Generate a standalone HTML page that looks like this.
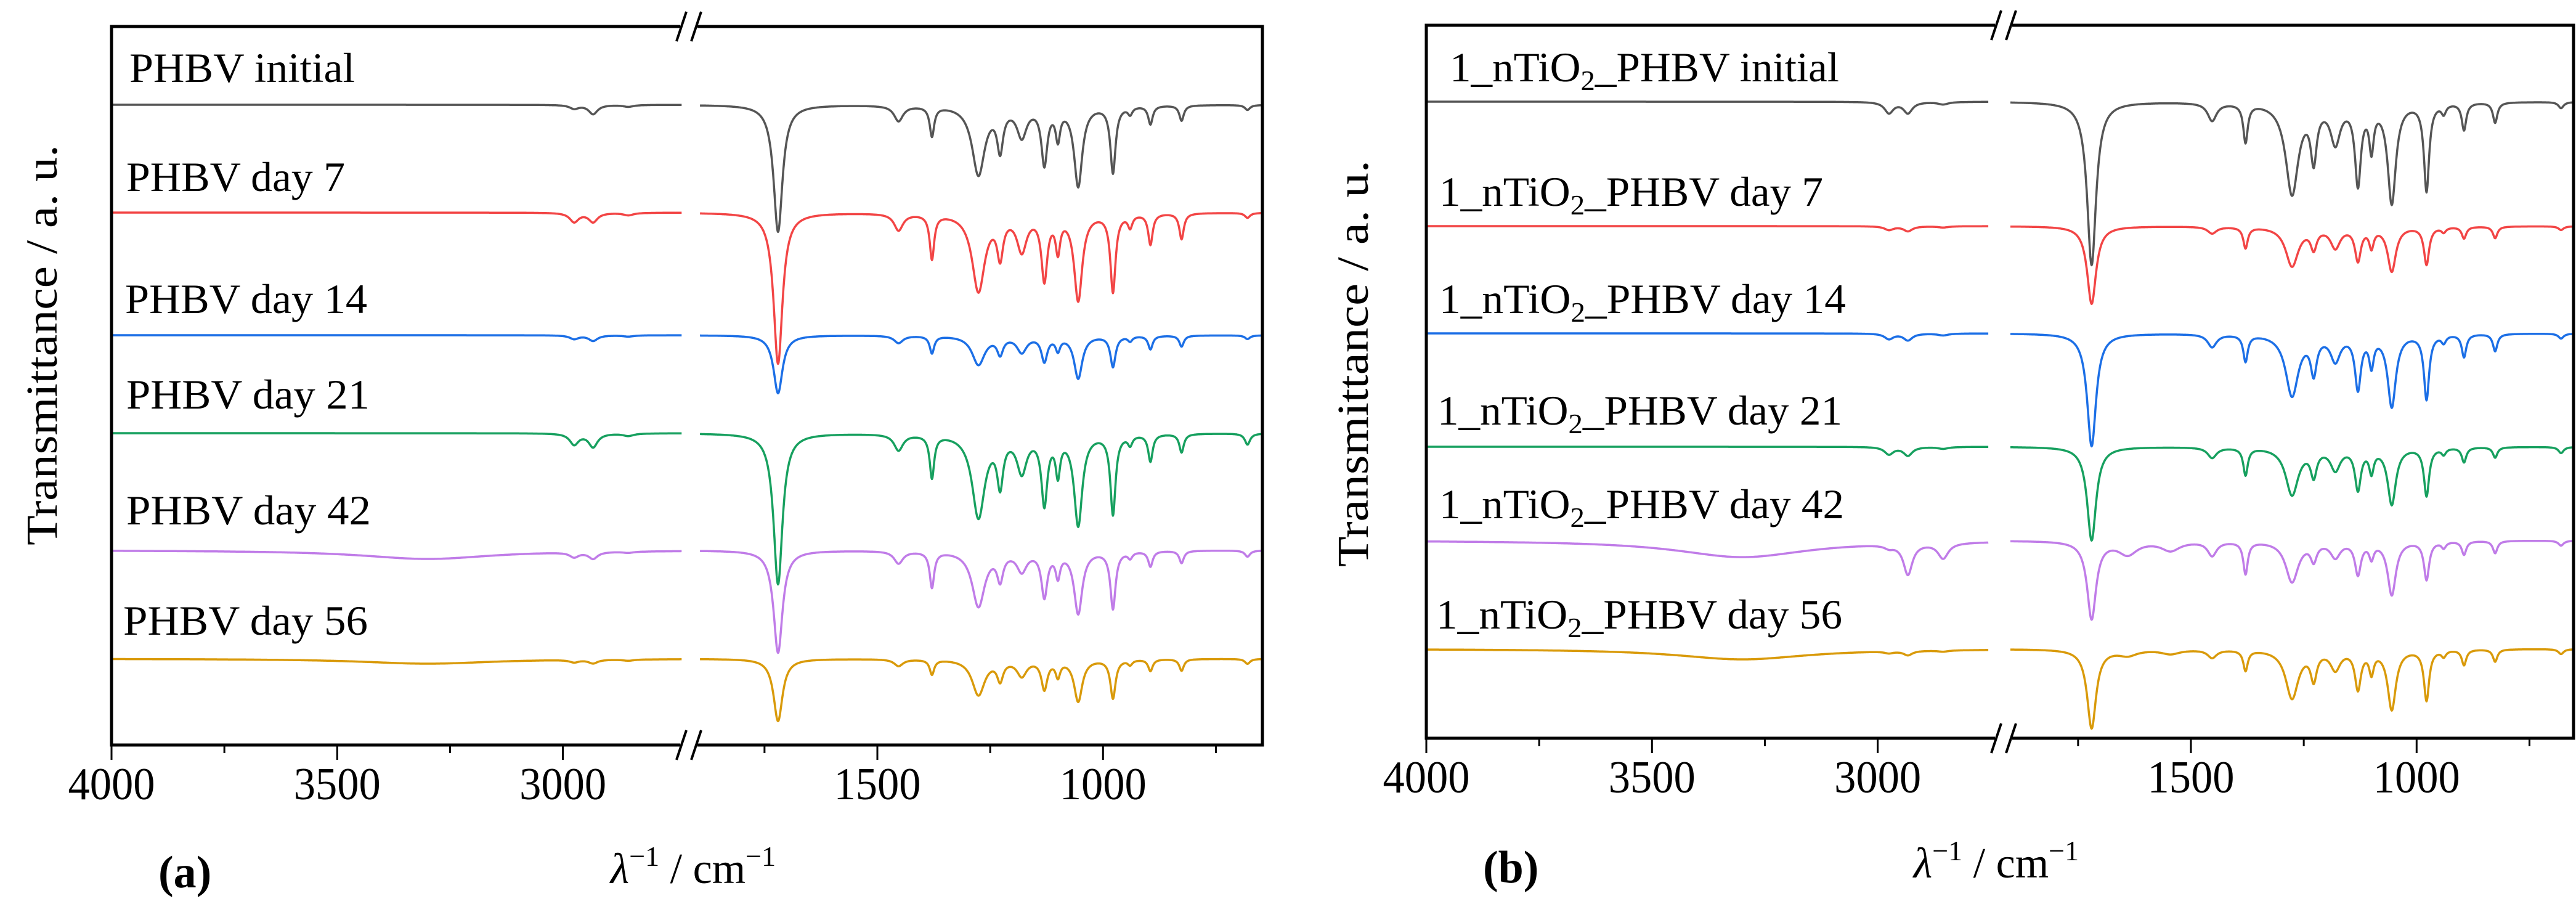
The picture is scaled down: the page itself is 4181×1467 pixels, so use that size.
<!DOCTYPE html>
<html><head><meta charset="utf-8">
<style>
html,body{margin:0;padding:0;background:#fff;}
svg{display:block;}
text{font-family:"Liberation Serif",serif;fill:#000;}
</style></head>
<body>
<svg id="chart" width="4181" height="1467" viewBox="0 0 4181 1467" xmlns="http://www.w3.org/2000/svg">
<rect x="0" y="0" width="4181" height="1467" fill="#fff"/>
<g id="panelA"></g>
<g id="panelB"></g>

<!-- Panel A text -->
<text transform="translate(92,560) rotate(-90)" text-anchor="middle" font-size="72" textLength="650" lengthAdjust="spacingAndGlyphs">Transmittance / a. u.</text>
<text x="1125" y="1433" text-anchor="middle" font-size="70"><tspan font-style="italic">λ</tspan><tspan dy="-28" font-size="46">−1</tspan><tspan dy="28"> / cm</tspan><tspan dy="-28" font-size="46">−1</tspan></text>
<text x="257" y="1440" font-size="74" font-weight="bold">(a)</text>
<text x="210" y="133" font-size="68" textLength="366" lengthAdjust="spacingAndGlyphs">PHBV initial</text>
<text x="205" y="310" font-size="68" textLength="355" lengthAdjust="spacingAndGlyphs">PHBV day 7</text>
<text x="203" y="508" font-size="68" textLength="393" lengthAdjust="spacingAndGlyphs">PHBV day 14</text>
<text x="205" y="663" font-size="68" textLength="395" lengthAdjust="spacingAndGlyphs">PHBV day 21</text>
<text x="205" y="851" font-size="68" textLength="397" lengthAdjust="spacingAndGlyphs">PHBV day 42</text>
<text x="200" y="1030" font-size="68" textLength="397" lengthAdjust="spacingAndGlyphs">PHBV day 56</text>

<!-- Panel B text -->
<text transform="translate(2220,590) rotate(-90)" text-anchor="middle" font-size="72" textLength="660" lengthAdjust="spacingAndGlyphs">Transmittance / a. u.</text>
<text x="3240" y="1424" text-anchor="middle" font-size="70"><tspan font-style="italic">λ</tspan><tspan dy="-28" font-size="46">−1</tspan><tspan dy="28"> / cm</tspan><tspan dy="-28" font-size="46">−1</tspan></text>
<text x="2407" y="1432" font-size="74" font-weight="bold">(b)</text>
<text x="2353" y="132" font-size="68" textLength="632" lengthAdjust="spacingAndGlyphs">1_nTiO<tspan dy="14" font-size="46">2</tspan><tspan dy="-14">_PHBV initial</tspan></text>
<text x="2336" y="334" font-size="68" textLength="623" lengthAdjust="spacingAndGlyphs">1_nTiO<tspan dy="14" font-size="46">2</tspan><tspan dy="-14">_PHBV day 7</tspan></text>
<text x="2336" y="508" font-size="68" textLength="660" lengthAdjust="spacingAndGlyphs">1_nTiO<tspan dy="14" font-size="46">2</tspan><tspan dy="-14">_PHBV day 14</tspan></text>
<text x="2333" y="689" font-size="68" textLength="657" lengthAdjust="spacingAndGlyphs">1_nTiO<tspan dy="14" font-size="46">2</tspan><tspan dy="-14">_PHBV day 21</tspan></text>
<text x="2336" y="841" font-size="68" textLength="657" lengthAdjust="spacingAndGlyphs">1_nTiO<tspan dy="14" font-size="46">2</tspan><tspan dy="-14">_PHBV day 42</tspan></text>
<text x="2331" y="1020" font-size="68" textLength="659" lengthAdjust="spacingAndGlyphs">1_nTiO<tspan dy="14" font-size="46">2</tspan><tspan dy="-14">_PHBV day 56</tspan></text>
</svg>
<script>
// peak centers (cm^-1) and half widths
const peakCenters = [3300, 2975, 2933, 2855, 1720, 1640, 1545, 1453, 1379, 1276, 1228, 1180, 1130, 1100, 1055, 978, 940, 895, 826, 680];
const peakWidths  = [180, 12, 12, 14, 12, 25, 25, 12, 6, 17, 8, 13, 8, 6, 11, 7, 6, 6, 6, 7];
// series offsets (a.u.)
const offsetsA = [0, 175, 374, 533, 723, 899];
const offsetsB = [0, 202, 376, 560, 712, 888];
// peak depths per series (a.u.)
const aGray   = [0,6,15,3,206,0,0,25,48,112,66,48,92,48,130,108,12,30,25,8];
const aRed    = [0,15,15,4,245,0,0,27,72,126,63,58,104,54,140,126,20,50,42,8];
const aBlue   = [0,6,9,2,94,0,0,12,28,47,27,26,40,21,69,50,8,22,18,6];
const aGreen  = [0,18,22,4,245,0,0,26,69,135,75,59,110,58,147,129,15,44,30,18];
const aPurple = [14,8,11,2,166,0,0,20,58,90,42,31,72,37,101,93,10,25,20,10];
const aOrange = [8,4,6,2,101,0,0,11,24,58,31,26,47,25,68,63,8,19,19,8];
const bGray   = [0,18,18,4,265,0,0,29,62,148,85,62,128,68,162,142,15,44,33,10];
const bRed    = [0,6,8,2,126,0,0,11,34,64,32,33,53,30,72,61,8,19,19,6];
const bBlue   = [0,9,11,3,183,0,0,21,43,100,58,41,86,46,117,105,12,37,28,8];
const bGreen  = [0,12,14,3,152,0,0,17,44,77,42,35,66,36,92,78,10,24,17,10];
const bPurple = [27,5,50,25,126,21,15,23,52,66,28,25,52,24,87,62,10,22,20,8];
const bOrange = [17,3,7,2,128,9,7,13,33,79,45,31,62,34,97,82,10,25,20,8];
const seriesNames = ["initial","day-7","day-14","day-21","day-42","day-56"];
const colors = ["#555555","#f24545","#1c6fe6","#17a05f","#c07ce8","#d99a0a"];
const majorTicks = [4000, 3500, 3000, 1500, 1000];
const minorTicks = [3750, 3250, 1750, 1250, 750];
const tickLabels = ["4000","3500","3000","1500","1000"];

const NS = "http://www.w3.org/2000/svg";
function mk(tag, attrs, parent){
  const el = document.createElementNS(NS, tag);
  for (const k in attrs) el.setAttribute(k, attrs[k]);
  parent.appendChild(el);
  return el;
}

function drawPanel(g, cfg, offsets, depths, prefix){
  const k = cfg.k;
  const xScale = w => w >= 2000 ? cfg.x4000 + (4000 - w) * k : cfg.x1500 + (1500 - w) * k;
  const yScale = v => cfg.y0 + v;
  function val(d, w){
    let s = 0;
    for (let i = 0; i < peakCenters.length; i++){
      const t = (w - peakCenters[i]) / peakWidths[i];
      s += d[i] / (1 + t * t);
    }
    return s;
  }
  for (let s = 0; s < depths.length; s++){
    const segs = [[4000, cfg.leftEnd], [cfg.rightStart, 650]];
    segs.forEach((seg, si) => {
      let d = "";
      for (let w = seg[0]; w >= seg[1]; w -= 1){
        const x = xScale(w), y = yScale(offsets[s] + val(depths[s], w));
        d += (d ? "L" : "M") + x.toFixed(1) + " " + y.toFixed(1);
      }
      const p = mk("path", {d: d, fill: "none", stroke: colors[s], "stroke-width": 3.5, "stroke-linejoin": "round"}, g);
      
      
    });
  }
  const L = cfg.left, R = cfg.right, T = cfg.top, B = cfg.bottom, bx = cfg.breakX;
  const frame = mk("path", {d: `M${bx-14} ${T}H${L}V${B}H${bx-14} M${bx+14} ${T}H${R}V${B}H${bx+14}`, fill: "none", stroke: "#000", "stroke-width": 5}, g);
  
  
  [T, B].forEach(yy => {
    for (const dx of [-12, 12]){
      const br = mk("line", {x1: bx + dx - 8, y1: yy + 24, x2: bx + dx + 8, y2: yy - 24, stroke: "#000", "stroke-width": 4}, g);
      
      
    }
  });
  majorTicks.forEach((w, i) => {
    const x = xScale(w);
    const t = mk("line", {x1: x, y1: B, x2: x, y2: B + 24, stroke: "#000", "stroke-width": 3}, g);
    
    
    const lb = mk("text", {x: x, y: cfg.labelY, "text-anchor": "middle", "font-size": 74, textLength: 141, lengthAdjust: "spacingAndGlyphs"}, g);
    lb.textContent = tickLabels[i];
    
    
  });
  minorTicks.forEach(w => {
    const x = xScale(w);
    const t = mk("line", {x1: x, y1: B, x2: x, y2: B + 13, stroke: "#000", "stroke-width": 3}, g);
    
    
  });
}

drawPanel(document.getElementById("panelA"),
  {k: 0.7326, x4000: 181, x1500: 1424, leftEnd: 2737, rightStart: 1893, y0: 170,
   left: 181, right: 2049, top: 43, bottom: 1209, breakX: 1118, labelY: 1297},
  offsetsA, [aGray, aRed, aBlue, aGreen, aPurple, aOrange], "a");
drawPanel(document.getElementById("panelB"),
  {k: 0.7326, x4000: 2315, x1500: 3556, leftEnd: 2755, rightStart: 1900, y0: 165,
   left: 2315, right: 4177, top: 41, bottom: 1198, breakX: 3252, labelY: 1286},
  offsetsB, [bGray, bRed, bBlue, bGreen, bPurple, bOrange], "b");
</script>
</body></html>
